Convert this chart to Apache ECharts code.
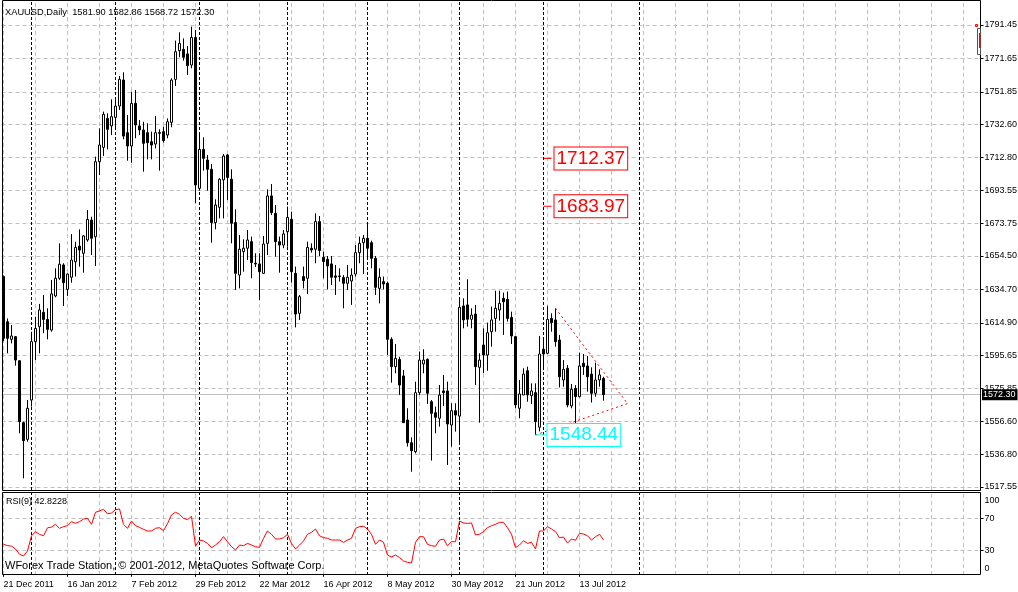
<!DOCTYPE html>
<html><head><meta charset="utf-8">
<script src="https://cdn.jsdelivr.net/npm/echarts@6/dist/echarts.min.js"></script>
<style>html,body{margin:0;padding:0;background:#fff}#c{width:1018px;height:592px}</style>
</head><body><div id="c"></div>
<script>
// ---------------- data ----------------
const symbolName = 'XAUUSD,Daily';
const tradingDays = [
  ['Dec 2011', [21,22,23,27,28,29,30]],
  ['Jan 2012', [3,4,5,6,9,10,11,12,13,16,17,18,19,20,23,24,25,26,27,30,31]],
  ['Feb 2012', [1,2,3,6,7,8,9,10,13,14,15,16,17,20,21,22,23,24,27,28,29]],
  ['Mar 2012', [1,2,5,6,7,8,9,12,13,14,15,16,19,20,21,22,23,26,27,28,29,30]],
  ['Apr 2012', [2,3,4,5,9,10,11,12,13,16,17,18,19,20,23,24,25,26,27,30]],
  ['May 2012', [1,2,3,4,7,8,9,10,11,14,15,16,17,18,21,22,23,24,25,28,29,30,31]],
  ['Jun 2012', [1,4,5,6,7,8,11,12,13,14,15,18,19,20,21,22,25,26,27,28,29]],
  ['Jul 2012', [2,3,4,5,6,9,10,11,12,13,16,17,18,19,20,23]]
];
const opens = [
  1642.3,1615.5,1605.1,1606.7,1592.4,1555.7,1545.8,1569.1,1603.7,1612.6,
  1621.1,1616.9,1610.6,1630.8,1641.3,1649.2,1634.7,1641.9,1651.1,1660.4,
  1656.1,1664.0,1675.8,1665.9,1710.4,1718.9,1736.1,1731.6,1736.7,1743.4,
  1758.8,1727.6,1719.7,1745.0,1731.6,1729.2,1727.6,1722.3,1720.9,1727.2,
  1728.2,1726.2,1733.7,1759.2,1776.2,1777.0,1774.3,1767.7,1784.1,1694.6,
  1717.7,1711.4,1705.9,1674.3,1683.4,1699.6,1714.4,1700.0,1674.3,1643.2,
  1657.1,1659.1,1663.0,1650.2,1649.8,1644.2,1662.0,1690.1,1679.8,1663.0,
  1661.0,1668.9,1676.3,1644.2,1620.5,1642.3,1641.3,1659.1,1658.5,1674.9,
  1653.7,1652.5,1649.8,1642.7,1642.7,1641.7,1638.3,1639.7,1643.8,1656.5,
  1662.4,1665.0,1662.4,1653.1,1635.3,1639.3,1638.3,1605.1,1588.9,1593.2,
  1583.4,1557.3,1543.8,1538.5,1573.5,1590.5,1593.2,1568.1,1561.6,1558.3,
  1574.5,1574.5,1554.3,1562.8,1559.6,1624.9,1625.5,1617.0,1620.1,1588.5,
  1601.7,1595.8,1609.6,1617.5,1622.5,1629.4,1628.8,1618.1,1606.7,1564.2,
  1572.1,1586.5,1571.7,1573.5,1553.0,1599.2,1596.8,1617.5,1616.6,1604.7,
  1581.0,1587.9,1565.6,1576.0,1571.1,1590.9,1589.3,1584.5,1573.1,1581.0,
  1581.90
];
const highs = [
  1643.0,1617.5,1613.6,1607.0,1592.8,1556.3,1569.1,1609.6,1618.5,1626.1,
  1631.4,1623.5,1640.3,1647.2,1662.0,1650.2,1644.2,1667.5,1663.0,1670.3,
  1666.9,1681.8,1677.8,1713.4,1730.2,1740.1,1739.1,1747.4,1747.0,1761.2,
  1763.4,1738.1,1751.9,1752.9,1735.1,1734.1,1733.2,1728.2,1737.5,1729.6,
  1731.2,1736.1,1759.8,1782.2,1787.1,1783.5,1779.0,1790.5,1788.5,1726.8,
  1724.9,1714.4,1709.1,1688.1,1700.6,1715.0,1715.0,1705.9,1682.2,1667.0,
  1664.4,1669.9,1666.0,1656.1,1656.1,1666.4,1694.0,1697.2,1684.7,1666.0,
  1669.9,1683.8,1680.8,1648.2,1631.4,1648.2,1663.0,1662.0,1679.8,1678.2,
  1657.1,1654.5,1654.5,1649.2,1647.2,1643.2,1649.2,1647.2,1661.0,1666.0,
  1667.0,1673.5,1663.6,1654.5,1647.2,1642.3,1639.3,1606.3,1602.3,1594.8,
  1586.9,1564.2,1547.0,1580.0,1597.8,1599.2,1593.8,1569.1,1565.2,1578.0,
  1584.0,1580.0,1567.2,1567.2,1629.4,1629.4,1640.7,1623.5,1625.5,1596.8,
  1611.6,1615.0,1624.5,1633.9,1633.9,1632.8,1633.4,1621.5,1607.1,1581.0,
  1587.9,1588.9,1579.0,1579.0,1607.1,1605.1,1624.9,1620.5,1623.5,1607.7,
  1592.8,1589.9,1578.6,1578.0,1597.2,1596.4,1595.2,1588.5,1591.3,1587.3,
  1582.86
];
const lows = [
  1604.0,1596.8,1602.7,1589.5,1549.4,1522.7,1544.4,1565.2,1592.8,1596.8,
  1608.7,1605.1,1609.6,1630.0,1640.3,1624.9,1630.8,1638.7,1642.3,1648.2,
  1644.6,1663.0,1655.1,1648.6,1702.5,1713.8,1717.7,1726.2,1729.2,1741.1,
  1723.7,1711.0,1709.8,1724.3,1726.2,1704.5,1711.8,1711.8,1718.3,1705.1,
  1721.7,1724.3,1730.8,1755.3,1772.3,1770.3,1761.8,1765.8,1685.7,1693.2,
  1705.1,1693.2,1662.4,1670.3,1676.8,1676.8,1687.7,1662.0,1634.4,1635.3,
  1645.2,1652.1,1641.3,1648.0,1628.4,1643.8,1655.1,1678.8,1654.1,1644.6,
  1659.1,1660.0,1638.7,1612.2,1616.6,1635.3,1632.0,1656.5,1650.2,1654.5,
  1641.3,1634.7,1637.3,1631.4,1639.3,1623.5,1634.4,1625.5,1642.3,1650.2,
  1643.8,1652.5,1647.2,1631.4,1626.4,1634.7,1595.8,1579.4,1585.0,1572.1,
  1555.7,1541.5,1526.6,1537.5,1572.1,1585.0,1566.8,1533.2,1549.4,1553.3,
  1565.6,1530.6,1541.5,1550.4,1543.8,1611.6,1612.6,1611.6,1578.0,1555.7,
  1585.0,1586.5,1600.7,1609.6,1616.2,1607.7,1615.6,1602.3,1564.2,1558.3,
  1572.1,1568.1,1566.8,1548.44,1550.5,1586.9,1596.4,1609.6,1600.7,1576.6,
  1577.0,1564.8,1564.2,1554.9,1570.7,1584.0,1574.1,1567.6,1571.1,1577.0,
  1568.72
];
const closes = [
  1605.7,1605.7,1607.1,1592.8,1556.3,1545.0,1564.2,1603.7,1611.6,1622.5,
  1616.9,1611.0,1632.0,1641.3,1649.6,1638.7,1643.8,1652.1,1659.6,1658.0,
  1666.4,1676.2,1665.0,1710.4,1720.3,1738.5,1729.6,1737.1,1743.4,1759.2,
  1725.6,1719.7,1745.0,1732.2,1729.2,1721.3,1721.7,1720.3,1727.6,1727.8,
  1722.9,1734.1,1758.8,1775.6,1780.6,1772.3,1767.3,1784.1,1696.6,1717.7,
  1712.4,1705.9,1674.3,1684.7,1700.0,1713.8,1701.1,1673.9,1644.2,1658.5,
  1659.1,1664.0,1650.6,1649.8,1645.2,1661.6,1690.1,1680.2,1663.0,1661.0,
  1667.6,1677.4,1645.2,1620.1,1630.4,1639.9,1659.6,1658.1,1674.9,1657.7,
  1651.2,1648.6,1641.9,1641.9,1642.3,1638.3,1641.9,1643.2,1656.5,1662.0,
  1665.0,1659.1,1653.1,1635.9,1641.9,1637.9,1605.1,1588.9,1593.8,1578.0,
  1555.7,1543.8,1539.1,1573.5,1592.8,1592.8,1573.1,1561.2,1558.9,1572.1,
  1573.5,1554.9,1562.8,1560.2,1624.1,1616.6,1617.0,1619.5,1588.9,1592.8,
  1595.8,1609.0,1616.6,1623.5,1626.4,1627.4,1617.5,1607.1,1566.2,1572.7,
  1584.5,1572.1,1574.5,1556.3,1596.4,1596.4,1616.9,1615.0,1603.7,1582.9,
  1587.3,1566.2,1575.5,1571.1,1589.3,1588.9,1582.9,1573.1,1581.0,1584.0,
  1572.30
];
const rsi9 = [
  37.2,35.5,35.0,31.3,24.6,22.5,28.8,48.0,53.0,49.8,
  48.0,58.0,59.0,62.4,57.4,59.5,60.7,65.8,63.6,65.8,
  69.1,70.0,62.4,77.6,79.3,81.3,75.8,76.7,80.9,81.8,
  62.4,57.4,66.6,60.7,58.6,56.1,54.0,54.0,57.4,58.2,
  54.4,63.3,74.3,77.6,75.0,70.0,68.3,72.5,35.0,42.6,
  41.4,38.4,33.0,36.3,40.5,46.9,40.5,34.2,30.0,36.3,
  35.5,38.4,36.3,34.2,33.3,44.8,54.0,49.8,43.9,43.9,
  45.5,49.8,38.4,31.3,36.3,41.4,49.8,52.3,56.5,48.0,
  45.6,44.8,42.6,42.6,42.6,39.7,42.6,44.8,57.4,59.5,
  59.9,56.5,49.8,37.2,42.6,39.7,23.7,21.2,23.7,20.4,
  16.2,14.5,13.6,39.7,46.8,46.8,37.2,35.5,34.7,42.6,
  43.9,35.5,40.5,40.5,66.6,64.1,63.6,64.1,49.0,49.8,
  53.2,58.2,60.7,62.4,64.9,64.9,58.2,49.8,33.0,36.3,
  41.8,38.4,39.7,31.3,54.0,54.0,59.5,56.5,53.2,45.6,
  46.4,38.8,43.9,42.3,51.0,50.2,48.0,42.6,46.8,49.8,
  42.8228
];
const priceTicks = [1517.55,1536.80,1556.60,1575.85,1595.65,1614.90,1634.70,1654.50,1673.75,1693.55,1712.80,1732.60,1751.85,1771.65,1791.45];
const rsiLabelTicks = [0, 30, 70, 100];
const rsiLevels = [30, 70];
const separatorDates = ['3 Jan 2012','1 Feb 2012','1 Mar 2012','2 Apr 2012','1 May 2012','1 Jun 2012','2 Jul 2012','1 Aug 2012'];
const redLevels = [
  {from: '2 Jul 2012', to: '4 Jul 2012', value: 1712.37},
  {from: '2 Jul 2012', to: '4 Jul 2012', value: 1683.97}
];
const lowLevel = {from: '28 Jun 2012', to: '3 Jul 2012', value: 1548.44};
const trendUpper = [['5 Jul 2012', 1623.5], ['29 Jul 2012', 1567.0]];
const trendLower = [['28 Jun 2012', 1548.44], ['29 Jul 2012', 1567.0]];
const copyrightText = 'WForex Trade Station, \u00a9 2001-2012, MetaQuotes Software Corp.';

// ---------------- categories ----------------
const MONTHS = ['Jan','Feb','Mar','Apr','May','Jun','Jul','Aug','Sep','Oct','Nov','Dec'];
const cats = [];
tradingDays.forEach(([m, days]) => days.forEach(d => cats.push(d + ' ' + m)));
const lastBar = cats.length - 1;
const SLOTS = 245;
(function () {
  const p = cats[lastBar].split(' ');
  const dt = new Date(+p[2], MONTHS.indexOf(p[1]), +p[0]);
  while (cats.length < SLOTS) {
    dt.setDate(dt.getDate() + 1);
    cats.push(dt.getDate() + ' ' + MONTHS[dt.getMonth()] + ' ' + dt.getFullYear());
  }
})();
const idx = d => cats.indexOf(d);

const candleData = opens.map((o, i) => [o, closes[i], lows[i], highs[i]]);

const FONT = "'Liberation Sans',Arial,sans-serif";
const FS = 9;

const gridVerts = [];
for (let i = 0; i < SLOTS; i += 8) gridVerts.push({xAxis: i, lineStyle: {color: '#c0c0c0', type: [4, 3], width: 1}});
const sepVerts = separatorDates.map(d => ({xAxis: idx(d), lineStyle: {color: '#000', type: [3, 2], width: 1}}));

const lastFmt = v => v.toFixed(2);

function levelSeries(lv, color, dist) {
  return {
    type: 'line', xAxisIndex: 0, yAxisIndex: 0, z: 10,
    data: [[idx(lv.from), lv.value], [idx(lv.to), lv.value]],
    symbol: 'none', silent: true, animation: false,
    lineStyle: {color: color, width: 1},
    endLabel: {
      show: true, distance: dist,
      formatter: () => lv.value.toFixed(2),
      color: color, fontFamily: FONT, fontSize: 19, lineHeight: 22,
      backgroundColor: '#fff', borderColor: color, borderWidth: 1,
      padding: [0, 2, 0, 2]
    }
  };
}
function trendSeries(pts) {
  return {
    type: 'line', xAxisIndex: 0, yAxisIndex: 0, z: 8,
    data: pts.map(p => [idx(p[0]), p[1]]),
    symbol: 'none', silent: true, animation: false,
    lineStyle: {color: '#ff0000', width: 1, type: [2, 3]}
  };
}

const chart = echarts.init(document.getElementById('c'), null, {renderer: 'canvas'});
const option = {
  animation: false,
  backgroundColor: '#fff',
  textStyle: {fontFamily: FONT},
  grid: [
    {left: 1.5, top: 1, width: 980, height: 489, containLabel: false, outerBoundsMode: 'none'},
    {left: 1.5, top: 492, width: 980, height: 83, containLabel: false, outerBoundsMode: 'none'}
  ],
  xAxis: [
    {type: 'category', gridIndex: 0, data: cats, boundaryGap: true,
     axisLine: {show: false}, axisTick: {show: false}, axisLabel: {show: false}, splitLine: {show: false}},
    {type: 'category', gridIndex: 1, data: cats, boundaryGap: true,
     axisLine: {show: false},
     axisTick: {show: true, alignWithLabel: true, length: 3, interval: (i) => i % 16 === 0 && i <= lastBar, lineStyle: {color: '#000'}},
     axisLabel: {show: true, interval: (i) => i % 16 === 0 && i <= lastBar, align: 'left', margin: 5,
                 color: '#000', fontSize: FS, fontFamily: FONT},
     splitLine: {show: false}}
  ],
  yAxis: [
    {type: 'value', gridIndex: 0, position: 'right', offset: -1, min: 1515.77, max: 1805.68, scale: true,
     axisLine: {show: false},
     axisTick: {show: true, length: 3, customValues: priceTicks, lineStyle: {color: '#000'}},
     axisLabel: {show: true, customValues: priceTicks, formatter: v => v.toFixed(2), margin: 4,
                 color: '#000', fontSize: FS, fontFamily: FONT},
     splitLine: {show: true, lineStyle: {color: '#c0c0c0', type: [4, 3], width: 1}}},
    {type: 'value', gridIndex: 1, position: 'right', offset: -1, min: -1.5, max: 103.2,
     axisLine: {show: false},
     axisTick: {show: true, length: 3, customValues: rsiLevels, lineStyle: {color: '#000'}},
     axisLabel: {show: true, customValues: rsiLabelTicks, margin: 4, color: '#000', fontSize: FS, fontFamily: FONT,
                 formatter: v => v === 100 ? '{t|100}' : (v === 0 ? '{b|0}' : String(v)),
                 rich: {
                   t: {padding: [11, 0, 0, 0], color: '#000', fontSize: FS, fontFamily: FONT},
                   b: {padding: [0, 0, 11, 0], color: '#000', fontSize: FS, fontFamily: FONT}
                 }},
     splitLine: {show: true, lineStyle: {color: '#c0c0c0', type: [4, 3], width: 1}}}
  ],
  series: [
    {
      type: 'candlestick', name: 'XAUUSD', xAxisIndex: 0, yAxisIndex: 0, z: 3,
      data: candleData, barWidth: 2, silent: true,
      itemStyle: {color: '#ffffff', color0: '#000000', borderColor: '#000000', borderColor0: '#000000',
                  borderColorDoji: '#000000', borderWidth: 1},
      markLine: {
        z: 1, silent: true, symbol: 'none', animation: false,
        label: {show: false},
        data: gridVerts.concat(sepVerts).concat([{
          yAxis: closes[lastBar],
          lineStyle: {color: '#c0c0c0', type: 'solid', width: 1},
          label: {show: true, position: 'end', distance: 0.5, formatter: () => closes[lastBar].toFixed(2),
                  color: '#fff', backgroundColor: '#000', fontSize: FS, fontFamily: FONT,
                  padding: [1, 2, 0, 1], lineHeight: 10}
        }])
      }
    },
    trendSeries(trendUpper),
    trendSeries(trendLower),
    levelSeries(redLevels[0], '#ff0000', 3),
    levelSeries(redLevels[1], '#ff0000', 3),
    levelSeries(lowLevel, '#00ffff', 0),
    {
      type: 'line', name: 'RSI(9)', xAxisIndex: 1, yAxisIndex: 1, z: 3,
      data: rsi9, symbol: 'none', silent: true,
      lineStyle: {color: '#ff0000', width: 1},
      markLine: {
        z: 1, silent: true, symbol: 'none', animation: false, label: {show: false},
        data: gridVerts.concat(sepVerts)
      }
    }
  ],
  graphic: [
    {type: 'rect', silent: true, z: 100, shape: {x: 2.5, y: 0.5, width: 978, height: 490},
     style: {fill: 'none', stroke: '#000', lineWidth: 1}},
    {type: 'rect', silent: true, z: 100, shape: {x: 2.5, y: 492.5, width: 978, height: 82},
     style: {fill: 'none', stroke: '#000', lineWidth: 1}},
    {type: 'text', silent: true, z: 100, x: 5, y: 12,
     style: {text: symbolName + '  ' + [opens[lastBar], highs[lastBar], lows[lastBar], closes[lastBar]].map(lastFmt).join(' '),
             fill: '#000', fontSize: 9.3, fontFamily: FONT, verticalAlign: 'middle'}},
    {type: 'text', silent: true, z: 100, x: 6, y: 502,
     style: {text: 'RSI(9) ' + rsi9[lastBar].toFixed(4), fill: '#000', fontSize: FS, fontFamily: FONT, verticalAlign: 'middle'}},
    {type: 'text', silent: true, z: 100, x: 5, y: 566,
     style: {text: copyrightText, fill: '#000', fontSize: 11, fontFamily: FONT, verticalAlign: 'middle'}},
    {type: 'rect', silent: true, z: 100, shape: {x: 977.5, y: 28.5, width: 3, height: 26},
     style: {fill: '#fff', stroke: '#555', lineWidth: 1}},
    {type: 'rect', silent: true, z: 101, shape: {x: 979, y: 33, width: 1.5, height: 15},
     style: {fill: '#ff0000'}},
    {type: 'rect', silent: true, z: 101, shape: {x: 975.5, y: 24.5, width: 2, height: 2},
     style: {fill: 'none', stroke: '#ff0000', lineWidth: 1}}
  ]
};
chart.setOption(option);
</script>
</body></html>
